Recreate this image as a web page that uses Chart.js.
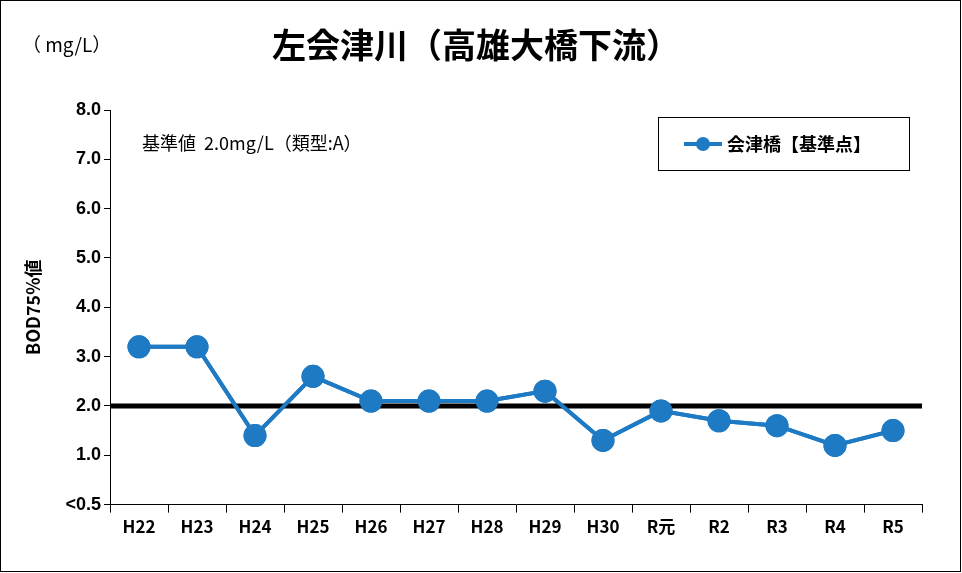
<!DOCTYPE html>
<html>
<head>
<meta charset="utf-8">
<script src="https://cdn.jsdelivr.net/npm/chart.js@4/dist/chart.umd.min.js"></script>
<style>
  html, body { margin: 0; padding: 0; background: #fff; }
  #wrap { width: 962px; height: 573px; position: relative; }
</style>
</head>
<body>
<div id="wrap"><canvas id="bodChart"></canvas></div>
<script>
// Data
const years = ['H22', 'H23', 'H24', 'H25', 'H26', 'H27', 'H28', 'H29', 'H30', 'R元', 'R2', 'R3', 'R4', 'R5'];
const aizuValues = [3.2, 3.2, 1.4, 2.6, 2.1, 2.1, 2.1, 2.3, 1.3, 1.9, 1.7, 1.6, 1.2, 1.5];
const standardValue = 2.0;
const yTicks = [0, 1, 2, 3, 4, 5, 6, 7, 8];

const blue = '#1f7ac4';
const jpFont = '"Noto Sans CJK JP", "Liberation Sans", sans-serif';

// Extra drawing: title, unit, standard line, note and legend box
const decorations = {
    id: 'decorations',
    afterDatasetsDraw(chart) {
        const { ctx, chartArea, scales } = chart;
        ctx.save();
        // standard line at 2.0
        const y = scales.y.getPixelForValue(standardValue);
        ctx.strokeStyle = '#000';
        ctx.lineWidth = 5;
        ctx.beginPath();
        ctx.moveTo(chartArea.left, y);
        ctx.lineTo(chartArea.right, y);
        ctx.stroke();
        // redraw series on top of the line
        chart.getDatasetMeta(0).controller.draw();

        ctx.fillStyle = '#000';
        ctx.textBaseline = 'middle';
        ctx.font = 'bold 34px ' + jpFont;
        ctx.textAlign = 'center';
        ctx.fillText('左会津川（高雄大橋下流）', 476, 45);
        ctx.font = '19px ' + jpFont;
        ctx.textAlign = 'left';
        ctx.fillText('（ mg/L）', 22, 45);
        ctx.font = '18px ' + jpFont;
        ctx.fillText('基準値  2.0mg/L（類型:A）', 142, 143);

        // legend
        ctx.strokeStyle = '#000';
        ctx.lineWidth = 1;
        ctx.strokeRect(658.5, 117.5, 251, 53);
        ctx.strokeStyle = blue;
        ctx.lineWidth = 4;
        ctx.beginPath();
        ctx.moveTo(684, 144);
        ctx.lineTo(722, 144);
        ctx.stroke();
        ctx.fillStyle = blue;
        ctx.beginPath();
        ctx.arc(703, 144, 7, 0, Math.PI * 2);
        ctx.fill();
        ctx.fillStyle = '#000';
        ctx.font = 'bold 18px ' + jpFont;
        ctx.fillText('会津橋【基準点】', 727, 144);

        // outer border
        ctx.strokeStyle = '#000';
        ctx.lineWidth = 1;
        ctx.strokeRect(0.5, 0.5, 960, 571);
        ctx.restore();
    }
};

new Chart(document.getElementById('bodChart'), {
    type: 'line',
    data: {
        labels: years,
        datasets: [{
            label: '会津橋【基準点】',
            data: aizuValues,
            borderColor: blue,
            backgroundColor: blue,
            borderWidth: 4,
            pointRadius: 9.5,
            pointHoverRadius: 9.5,
            tension: 0
        }]
    },
    options: {
        responsive: true,
        maintainAspectRatio: false,
        animation: false,
        layout: { padding: { top: 110, right: 40, bottom: 32, left: 18 } },
        plugins: { legend: { display: false }, tooltip: { enabled: false } },
        scales: {
            x: {
                offset: true,
                border: { color: '#000', width: 1 },
                grid: { display: true, drawOnChartArea: false, offset: true, tickLength: 8, color: '#000' },
                ticks: { color: '#000', font: { family: jpFont, size: 17, weight: 'bold' }, padding: 4 }
            },
            y: {
                min: 0,
                max: 8,
                afterBuildTicks: axis => { axis.ticks = yTicks.map(v => ({ value: v })); },
                afterFit: axis => { axis.width = 92; },
                border: { color: '#000', width: 1 },
                grid: { display: true, drawOnChartArea: false, tickLength: 6, color: '#000' },
                title: {
                    display: true,
                    text: 'BOD75%値',
                    color: '#000',
                    font: { family: jpFont, size: 18, weight: 'bold' },
                    padding: 4
                },
                ticks: {
                    color: '#000',
                    font: { family: '"Liberation Sans", sans-serif', size: 18, weight: 'bold' },
                    callback: v => v === 0 ? '<0.5' : v.toFixed(1)
                }
            }
        }
    },
    plugins: [decorations]
});
</script>
</body>
</html>
